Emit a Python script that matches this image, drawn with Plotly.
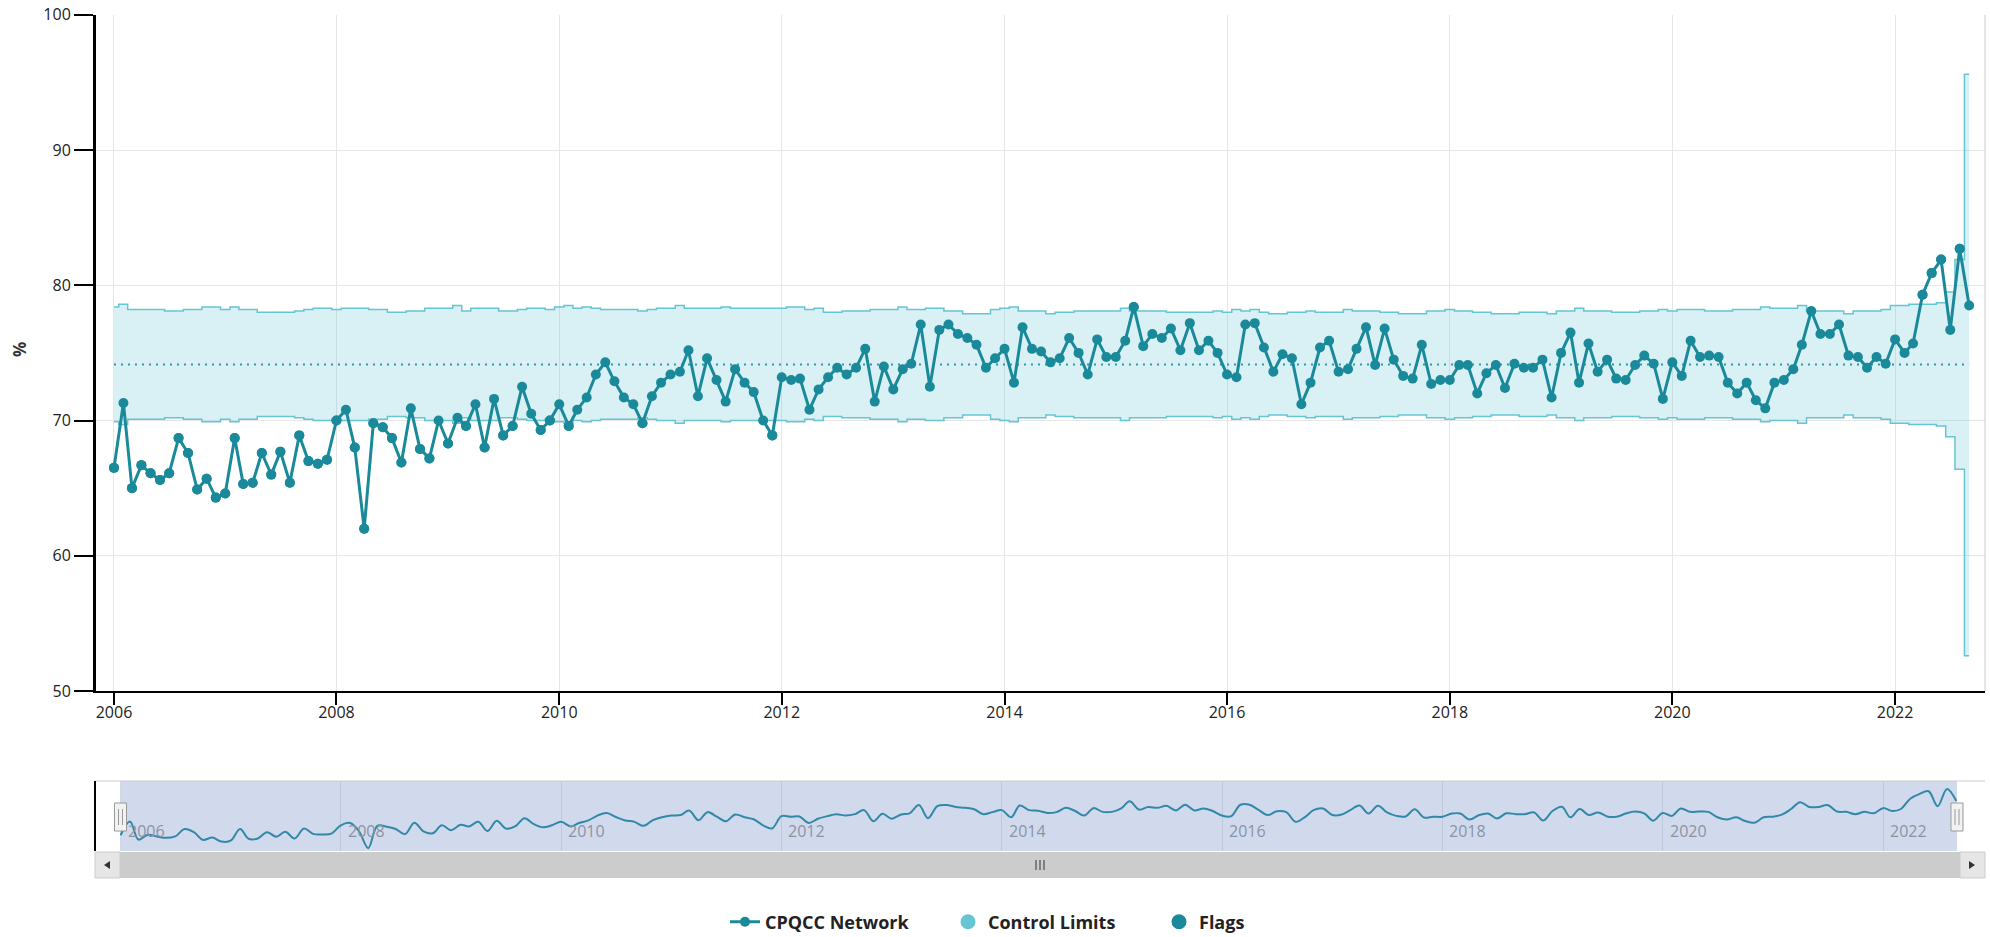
import pandas as pd
import plotly.graph_objects as go

W, H = 1990, 937

# monthly values, Jan 2006 - Sep 2022
months = pd.date_range("2006-01-01", "2022-09-01", freq="MS")

pct = [
    66.5, 71.3, 65.0, 66.7, 66.1, 65.6, 66.1, 68.7, 67.6, 64.9, 65.7, 64.3,  # 2006
    64.6, 68.7, 65.3, 65.4, 67.6, 66.0, 67.7, 65.4, 68.9, 67.0, 66.8, 67.1,  # 2007
    70.0, 70.8, 68.0, 62.0, 69.8, 69.5, 68.7, 66.9, 70.9, 67.9, 67.2, 70.0,  # 2008
    68.3, 70.2, 69.6, 71.2, 68.0, 71.6, 68.9, 69.6, 72.5, 70.5, 69.3, 70.0,  # 2009
    71.2, 69.6, 70.8, 71.7, 73.4, 74.3, 72.9, 71.7, 71.2, 69.8, 71.8, 72.8,  # 2010
    73.4, 73.6, 75.2, 71.8, 74.6, 73.0, 71.4, 73.8, 72.8, 72.1, 70.0, 68.9,  # 2011
    73.2, 73.0, 73.1, 70.8, 72.3, 73.2, 73.9, 73.4, 73.9, 75.3, 71.4, 74.0,  # 2012
    72.3, 73.8, 74.2, 77.1, 72.5, 76.7, 77.1, 76.4, 76.1, 75.6, 73.9, 74.6,  # 2013
    75.3, 72.8, 76.9, 75.3, 75.1, 74.3, 74.6, 76.1, 75.0, 73.4, 76.0, 74.7,  # 2014
    74.7, 75.9, 78.4, 75.5, 76.4, 76.1, 76.8, 75.2, 77.2, 75.2, 75.9, 75.0,  # 2015
    73.4, 73.2, 77.1, 77.2, 75.4, 73.6, 74.9, 74.6, 71.2, 72.8, 75.4, 75.9,  # 2016
    73.6, 73.8, 75.3, 76.9, 74.1, 76.8, 74.5, 73.3, 73.1, 75.6, 72.7, 73.0,  # 2017
    73.0, 74.1, 74.1, 72.0, 73.5, 74.1, 72.4, 74.2, 73.9, 73.9, 74.5, 71.7,  # 2018
    75.0, 76.5, 72.8, 75.7, 73.6, 74.5, 73.1, 73.0, 74.1, 74.8, 74.2, 71.6,  # 2019
    74.3, 73.3, 75.9, 74.7, 74.8, 74.7, 72.8, 72.0, 72.8, 71.5, 70.9, 72.8,  # 2020
    73.0, 73.8, 75.6, 78.1, 76.4, 76.4, 77.1, 74.8, 74.7, 73.9, 74.7, 74.2,  # 2021
    76.0, 75.0, 75.7, 79.3, 80.9, 81.9, 76.7, 82.7, 78.5,                    # 2022
]

ucl = [
    78.4, 78.6, 78.2, 78.2, 78.2, 78.2, 78.1, 78.1, 78.2, 78.2, 78.4, 78.4,
    78.2, 78.4, 78.2, 78.2, 78.0, 78.0, 78.0, 78.0, 78.1, 78.2, 78.3, 78.3,
    78.2, 78.3, 78.3, 78.3, 78.2, 78.2, 78.0, 78.0, 78.1, 78.1, 78.3, 78.3,
    78.3, 78.5, 78.1, 78.3, 78.3, 78.3, 78.1, 78.1, 78.2, 78.3, 78.3, 78.2,
    78.4, 78.5, 78.3, 78.4, 78.3, 78.2, 78.2, 78.2, 78.2, 78.1, 78.2, 78.3,
    78.3, 78.5, 78.3, 78.3, 78.3, 78.3, 78.4, 78.3, 78.3, 78.3, 78.3, 78.3,
    78.3, 78.4, 78.4, 78.2, 78.3, 78.0, 78.0, 78.1, 78.1, 78.1, 78.2, 78.2,
    78.2, 78.4, 78.2, 78.2, 78.3, 78.3, 78.1, 78.1, 77.9, 77.9, 77.9, 78.2,
    78.3, 78.4, 78.1, 78.1, 78.1, 77.9, 78.0, 78.0, 78.1, 78.1, 78.1, 78.1,
    78.1, 78.3, 78.1, 78.1, 78.1, 78.1, 78.0, 78.0, 78.0, 78.0, 78.0, 78.1,
    78.0, 78.2, 78.1, 78.2, 78.0, 77.9, 77.9, 78.0, 78.0, 78.1, 78.0, 78.0,
    78.0, 78.2, 78.1, 78.1, 78.1, 78.0, 78.0, 77.9, 77.9, 77.9, 78.1, 78.1,
    78.2, 78.1, 78.1, 78.0, 78.0, 77.9, 77.9, 77.9, 78.0, 78.0, 78.0, 77.9,
    78.1, 78.1, 78.3, 78.1, 78.1, 78.1, 78.0, 78.0, 78.0, 78.1, 78.1, 78.2,
    78.1, 78.2, 78.2, 78.2, 78.1, 78.1, 78.1, 78.2, 78.2, 78.2, 78.4, 78.3,
    78.3, 78.3, 78.5, 78.1, 78.1, 78.1, 78.1, 77.9, 78.1, 78.1, 78.1, 78.2,
    78.5, 78.5, 78.6, 78.6, 78.6, 78.7, 79.5, 81.9, 95.6,
]

lcl = [
    69.9, 69.7, 70.1, 70.1, 70.1, 70.1, 70.2, 70.2, 70.1, 70.1, 69.9, 69.9,
    70.1, 69.9, 70.1, 70.1, 70.3, 70.3, 70.3, 70.3, 70.2, 70.1, 70.0, 70.0,
    70.1, 70.0, 70.0, 70.0, 70.1, 70.1, 70.3, 70.3, 70.2, 70.2, 70.0, 70.0,
    70.0, 69.8, 70.2, 70.0, 70.0, 70.0, 70.2, 70.2, 70.1, 70.0, 70.0, 70.1,
    69.9, 69.8, 70.0, 69.9, 70.0, 70.1, 70.1, 70.1, 70.1, 70.2, 70.1, 70.0,
    70.0, 69.8, 70.0, 70.0, 70.0, 70.0, 69.9, 70.0, 70.0, 70.0, 70.0, 70.0,
    70.0, 69.9, 69.9, 70.1, 70.0, 70.3, 70.3, 70.2, 70.2, 70.2, 70.1, 70.1,
    70.1, 69.9, 70.1, 70.1, 70.0, 70.0, 70.2, 70.2, 70.4, 70.4, 70.4, 70.1,
    70.0, 69.9, 70.2, 70.2, 70.2, 70.4, 70.3, 70.3, 70.2, 70.2, 70.2, 70.2,
    70.2, 70.0, 70.2, 70.2, 70.2, 70.2, 70.3, 70.3, 70.3, 70.3, 70.3, 70.2,
    70.3, 70.1, 70.2, 70.1, 70.3, 70.4, 70.4, 70.3, 70.3, 70.2, 70.3, 70.3,
    70.3, 70.1, 70.2, 70.2, 70.2, 70.3, 70.3, 70.4, 70.4, 70.4, 70.2, 70.2,
    70.1, 70.2, 70.2, 70.3, 70.3, 70.4, 70.4, 70.4, 70.3, 70.3, 70.3, 70.4,
    70.2, 70.2, 70.0, 70.2, 70.2, 70.2, 70.3, 70.3, 70.3, 70.2, 70.2, 70.1,
    70.2, 70.1, 70.1, 70.1, 70.2, 70.2, 70.2, 70.1, 70.1, 70.1, 69.9, 70.0,
    70.0, 70.0, 69.8, 70.2, 70.2, 70.2, 70.2, 70.4, 70.2, 70.2, 70.2, 70.1,
    69.8, 69.8, 69.7, 69.7, 69.7, 69.6, 68.8, 66.4, 52.6,
]

center = 74.15
year_ticks = [2006, 2008, 2010, 2012, 2014, 2016, 2018, 2020, 2022]

TEAL = "#1a8a9b"
LIMIT = "#66c5d2"
FONT = "Open Sans"


def px_x(x):
    return x / W


def px_y(y):
    return 1 - y / H


def rect(x0, y0, x1, y1, fill, line=None, width=1, layer="above"):
    return dict(type="rect", xref="paper", yref="paper",
                x0=px_x(x0), x1=px_x(x1), y0=px_y(y1), y1=px_y(y0),
                fillcolor=fill, layer=layer,
                line=dict(color=line or fill, width=width if line else 0))


def seg(x0, y0, x1, y1, color, width=1):
    return dict(type="line", xref="paper", yref="paper",
                x0=px_x(x0), x1=px_x(x1), y0=px_y(y0), y1=px_y(y1),
                line=dict(color=color, width=width), layer="above")


def tri(pts, color):
    path = "M " + " L ".join(f"{px_x(a)},{px_y(b)}" for a, b in pts) + " Z"
    return dict(type="path", xref="paper", yref="paper", path=path,
                fillcolor=color, line=dict(width=0), layer="above")


flag_x = [m for m, v, lo, hi in zip(months, pct, lcl, ucl) if v < lo or v > hi]
flag_y = [v for v, lo, hi in zip(pct, lcl, ucl) if v < lo or v > hi]

fig = go.Figure()

# control limits band
fig.add_trace(go.Scatter(
    x=months, y=lcl, mode="lines", line=dict(color=LIMIT, width=1.5, shape="hvh"),
    showlegend=False, hoverinfo="skip"
))
fig.add_trace(go.Scatter(
    x=months, y=ucl, mode="lines", line=dict(color=LIMIT, width=1.5, shape="hvh"),
    fill="tonexty", fillcolor="rgba(102,197,210,0.25)",
    showlegend=False, hoverinfo="skip"
))
fig.add_trace(go.Scatter(
    x=[months[0], months[-1]], y=[center, center], mode="lines",
    line=dict(color="#2a9aab", width=2, dash="2px,5px"),
    showlegend=False, hoverinfo="skip"
))

fig.add_trace(go.Scatter(
    x=months, y=pct, mode="lines+markers", name="CPQCC Network",
    line=dict(color=TEAL, width=3), marker=dict(color=TEAL, size=10),
    legendrank=1, legendwidth=178
))
fig.add_trace(go.Scatter(
    x=flag_x, y=flag_y, mode="markers", name="Flags", legendgroup="flags",
    marker=dict(color=TEAL, size=10), showlegend=False
))

# legend-only symbols
fig.add_trace(go.Scatter(
    x=[None], y=[None], mode="markers", name="Control Limits",
    marker=dict(color=LIMIT, size=15), legendrank=2, legendwidth=166
))
fig.add_trace(go.Scatter(
    x=[None], y=[None], mode="markers", name="Flags", legendgroup="flags",
    marker=dict(color=TEAL, size=15), legendrank=3, legendwidth=50
))

# navigator series
fig.add_trace(go.Scatter(
    x=months, y=pct, mode="lines", line=dict(color=TEAL, width=2, shape="spline"),
    xaxis="x2", yaxis="y2", showlegend=False, hoverinfo="skip"
))

tick_dates = [f"{y}-01-01" for y in year_ticks]
tick_text = [str(y) for y in year_ticks]

shapes = [
    # right border of plot area
    seg(1985, 14.8, 1985, 691, "#cccccc", 1),
    # navigator
    rect(120.5, 781, 1957, 851, "rgba(102,133,194,0.3)"),
    seg(95, 781, 1985, 781, "#cccccc", 1),
    seg(95, 781, 95, 851, "#000000", 2),
    # scrollbar
    rect(120, 852, 1960, 878, "#cccccc"),
    rect(95, 852, 120, 878, "#e6e6e6", "#cccccc", 1),
    rect(1960, 852, 1985, 878, "#e6e6e6", "#cccccc", 1),
    tri([(104, 865), (110, 861), (110, 869)], "#333333"),
    tri([(1975, 865), (1969, 861), (1969, 869)], "#333333"),
]
for rx in (1036, 1040, 1044):
    shapes.append(seg(rx, 860, rx, 870, "#333333", 1))
for hx in (120.5, 1957):
    shapes.append(rect(hx - 6, 803, hx + 6, 831, "#f2f2f2", "#999999", 1))
    shapes.append(seg(hx - 2, 809, hx - 2, 825, "#999999", 1))
    shapes.append(seg(hx + 2, 809, hx + 2, 825, "#999999", 1))

annotations = [
    dict(text="<b>%</b>", xref="paper", yref="paper", x=px_x(19), y=px_y(350),
         xanchor="center", yanchor="middle",
         showarrow=False, textangle=-90, font=dict(family=FONT, size=17, color="#333333"))
]
for d, t in zip(tick_dates, tick_text):
    annotations.append(dict(
        text=t, xref="x2", yref="paper", x=d, y=px_y(831), xanchor="left",
        yanchor="middle", xshift=5, showarrow=False,
        font=dict(family=FONT, size=16, color="#8a93a5")
    ))

fig.update_layout(
    width=W, height=H,
    margin=dict(l=0, r=0, t=0, b=0, autoexpand=False),
    plot_bgcolor="white", paper_bgcolor="white",
    font=dict(family=FONT, size=16, color="#222222"),
    xaxis=dict(
        domain=[px_x(96), px_x(1985)], anchor="y",
        range=["2005-11-03", "2022-10-23"],
        tickvals=tick_dates, ticktext=tick_text,
        ticks="outside", ticklen=12, tickwidth=2, tickcolor="#000000",
        ticklabelstandoff=-6,
        showline=True, linecolor="#000000", linewidth=2,
        showgrid=True, gridcolor="#e6e6e6", gridwidth=1, zeroline=False,
        tickfont=dict(family=FONT, size=16, color="#222222")
    ),
    yaxis=dict(
        domain=[px_y(691), px_y(14.8)], anchor="x",
        range=[50, 100], dtick=10,
        ticks="outside", ticklen=19, tickwidth=2, tickcolor="#000000",
        showline=True, linecolor="#000000", linewidth=3,
        showgrid=True, gridcolor="#e6e6e6", gridwidth=1, zeroline=False,
        tickfont=dict(family=FONT, size=16, color="#222222")
    ),
    xaxis2=dict(
        domain=[px_x(95), px_x(1985)], anchor="y2",
        range=["2005-10-08", "2022-12-05"],
        tickvals=tick_dates, showticklabels=False, ticks="",
        showgrid=True, gridcolor="#e6e6e6", showline=False, zeroline=False
    ),
    yaxis2=dict(
        domain=[px_y(851), px_y(781)], anchor="x2",
        range=[61.0, 85.5], visible=False
    ),
    legend=dict(
        orientation="h", x=px_x(725), xanchor="left",
        y=px_y(922), yanchor="middle",
        font=dict(family=FONT, size=18, color="#222222", weight="bold"),
        bgcolor="rgba(0,0,0,0)"
    ),
    shapes=shapes,
    annotations=annotations,
    hovermode="closest",
)

fig.write_html(
    "out.html",
    config={"displayModeBar": False},
    post_script="document.body.style.margin='0';document.body.style.overflow='hidden';"
)
